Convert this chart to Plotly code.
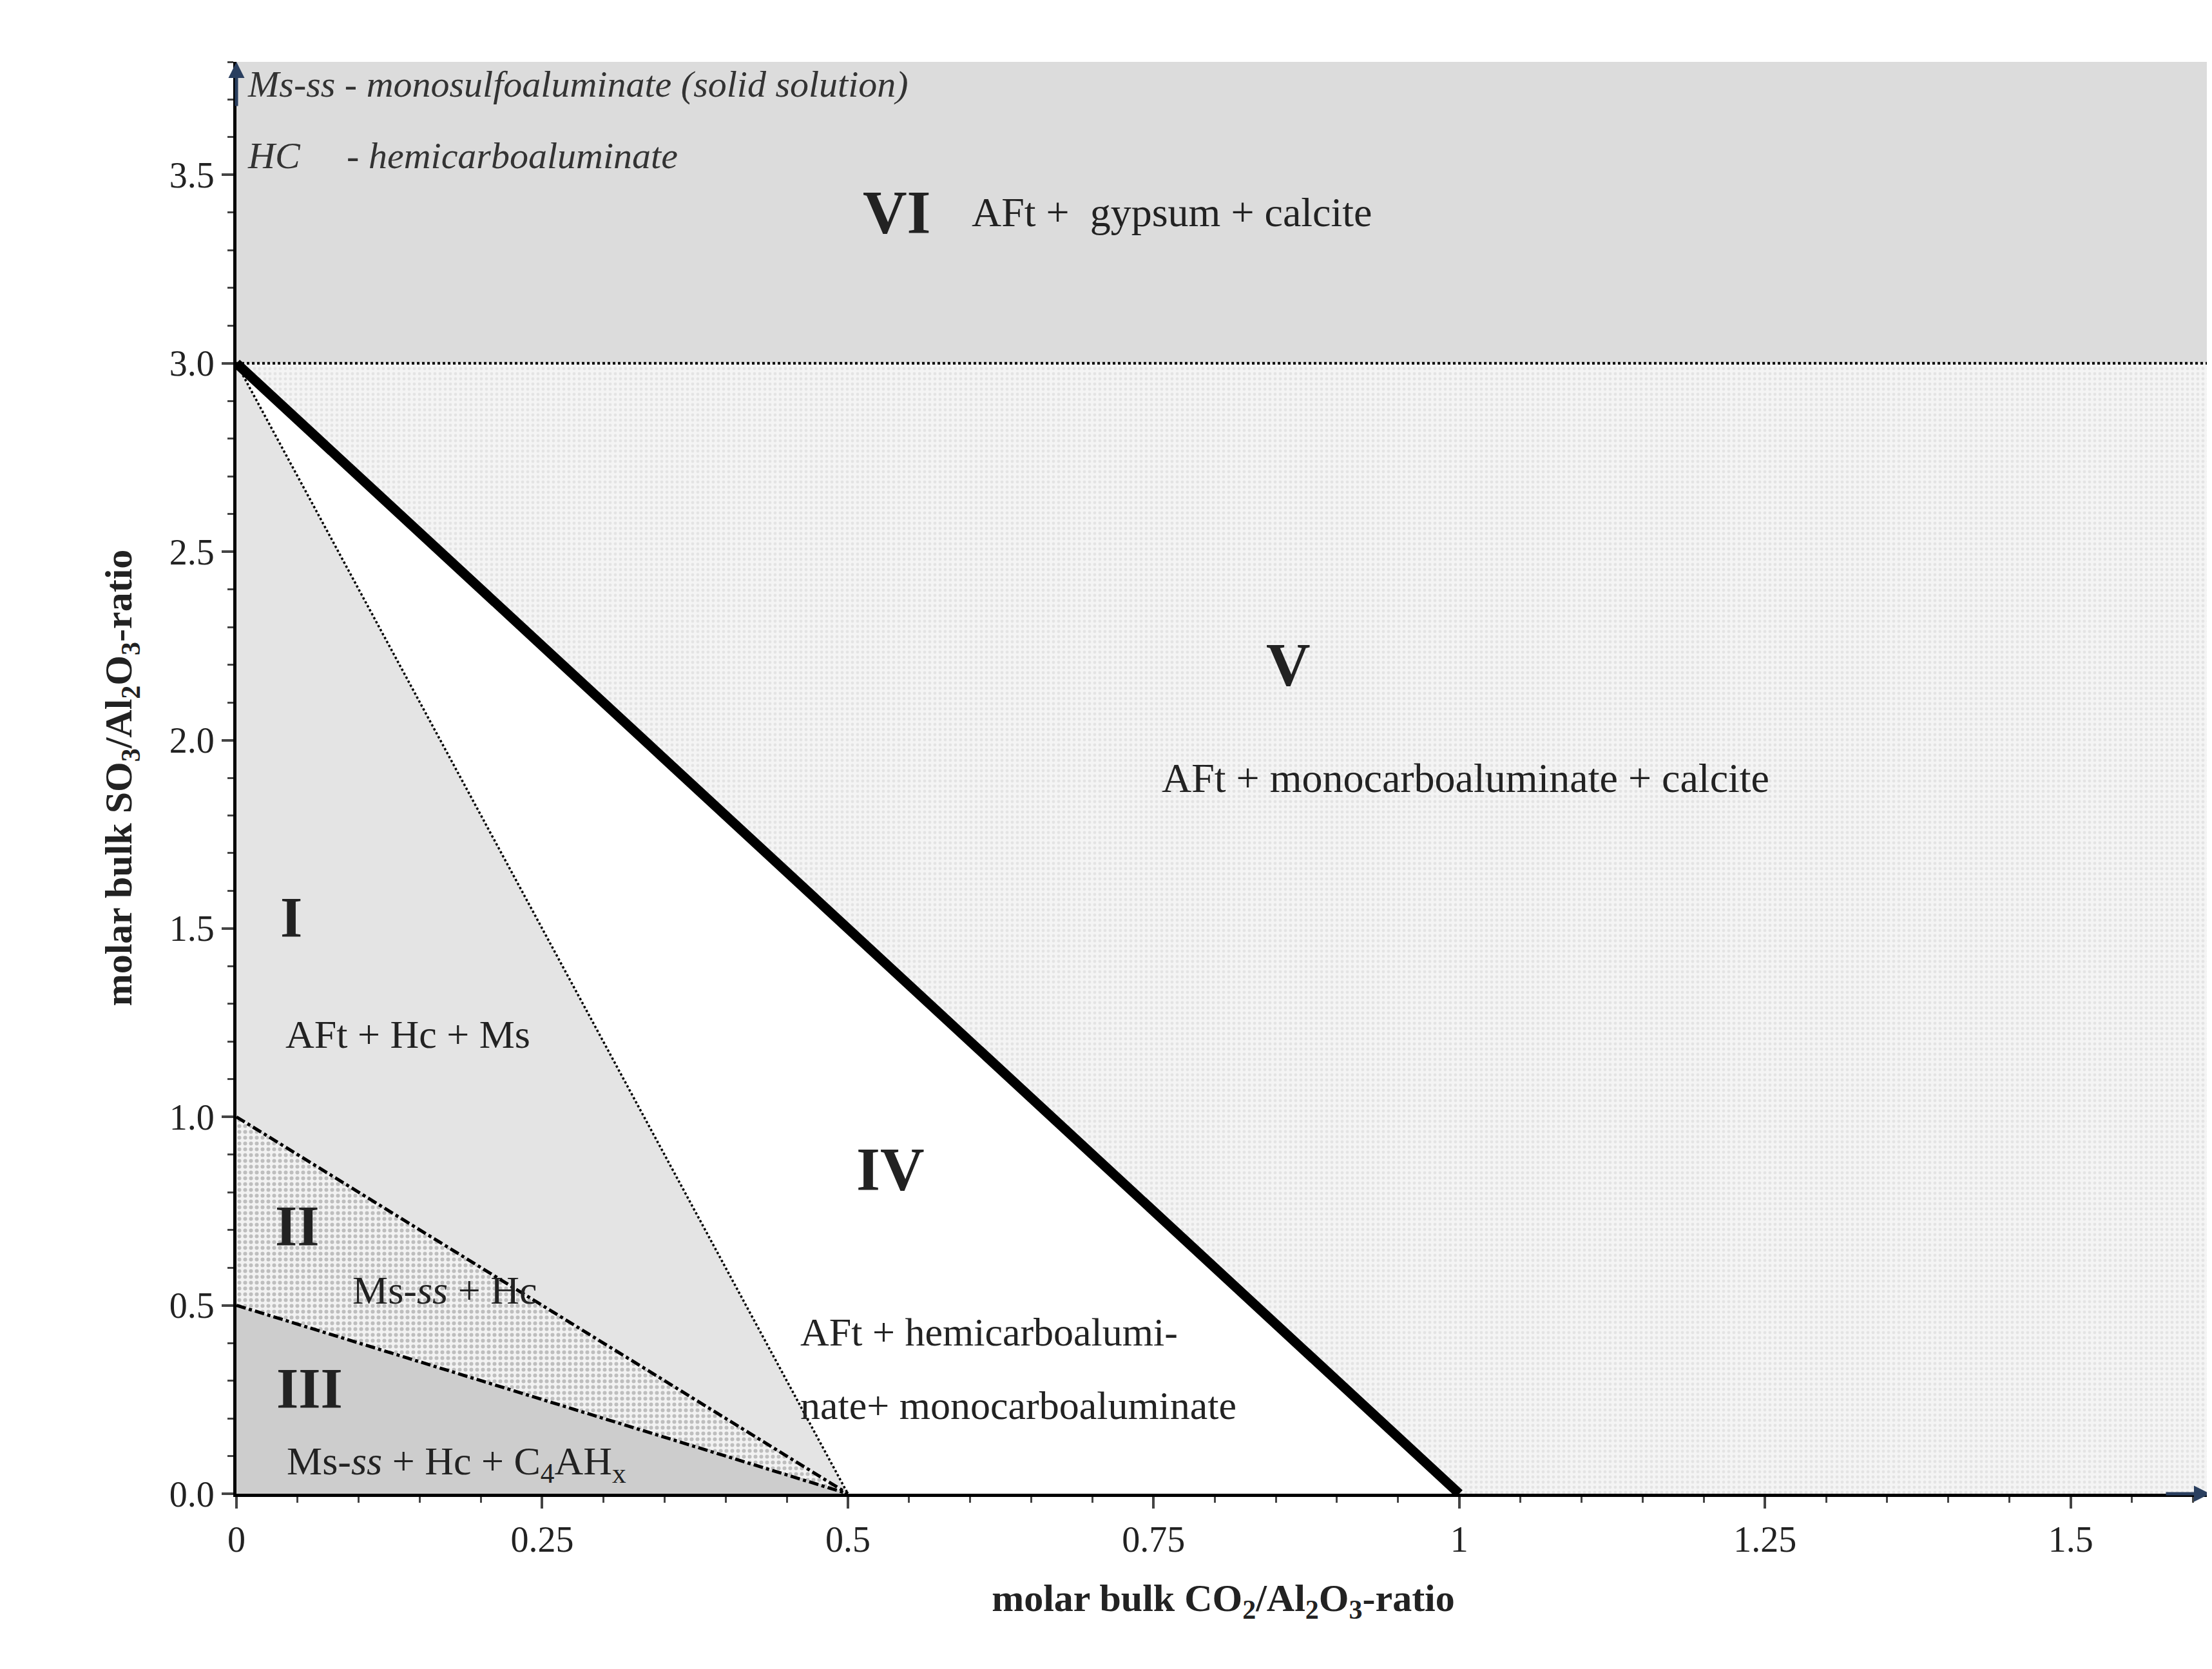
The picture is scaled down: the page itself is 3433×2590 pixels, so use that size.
import plotly.graph_objects as go

x_max, y_max = 1.614, 3.8
# region vertices (CO2/Al2O3, SO3/Al2O3)
vi_x = [0, x_max, x_max, 0]; vi_y = [3, 3, y_max, y_max]
v_x = [0, 1, x_max, x_max]; v_y = [3, 0, 0, 3]
i_x = [0, 0.5, 0]; i_y = [3, 0, 1]
ii_x = [0, 0.5, 0]; ii_y = [1, 0, 0.5]
iii_x = [0, 0.5, 0]; iii_y = [0.5, 0, 0]
xticks = [0, 0.25, 0.5, 0.75, 1, 1.25, 1.5]
xtick_labels = ["0", "0.25", "0.5", "0.75", "1", "1.25", "1.5"]
yticks = [0, 0.5, 1, 1.5, 2, 2.5, 3, 3.5]

F = "Liberation Serif, Times New Roman, serif"
fig = go.Figure()
def poly(x, y, color, pattern=None):
    fig.add_trace(go.Scatter(x=x + [x[0]], y=y + [y[0]], fill="toself", fillcolor=color,
                             mode="lines", line=dict(width=0), hoverinfo="skip", showlegend=False,
                             fillpattern=pattern))
poly(vi_x, vi_y, "#dcdcdc")
poly(v_x, v_y, "#f1f1f1", dict(shape=".", fgcolor="#d4d4d4", bgcolor="#f4f4f4", size=8, solidity=0.3))
poly(i_x, i_y, "#e4e4e4")
poly(ii_x, ii_y, "#eeeeee", dict(shape=".", fgcolor="#8a8a8a", bgcolor="#f2f2f2", size=9, solidity=0.35))
poly(iii_x, iii_y, "#cdcdcd")

def line(x, y, w, dash):
    fig.add_trace(go.Scatter(x=x, y=y, mode="lines", line=dict(color="black", width=w, dash=dash),
                             hoverinfo="skip", showlegend=False))
line([0, x_max], [3, 3], 4, "dot")
line([0, 0.5], [3, 0], 3.5, "dot")
line([0, 0.5], [1, 0], 5, "dashdot")
line([0, 0.5], [0.5, 0], 5, "dashdot")
line([0, 1], [3, 0], 15, "solid")

def txt(x, y, t, size=62, anchor="center", bold=False, italic=False):
    if bold: t = "<b>" + t + "</b>"
    if italic: t = "<i>" + t + "</i>"
    fig.add_annotation(x=x, y=y, text=t, showarrow=False, xanchor=anchor,
                       font=dict(family=F, size=size, color="#222"))
txt(0.54, 3.4, "VI", 95, bold=True)
txt(0.6, 3.4, "AFt +  gypsum + calcite", 64, "left")
txt(0.86, 2.2, "V", 95, bold=True)
txt(1.005, 1.9, "AFt + monocarboaluminate + calcite", 64)
txt(0.045, 1.53, "I", 88, bold=True)
txt(0.14, 1.22, "AFt + Hc + Ms", 62)
txt(0.05, 0.71, "II", 88, bold=True)
txt(0.17, 0.54, "Ms-<i>ss</i> + Hc", 62)
txt(0.06, 0.28, "III", 88, bold=True)
txt(0.18, 0.08, "Ms-<i>ss</i> + Hc + C<sub>4</sub>AH<sub>x</sub>", 62)
txt(0.535, 0.86, "IV", 95, bold=True)
txt(0.46, 0.43, "AFt + hemicarboalumi-", 62, "left")
txt(0.46, 0.235, "nate+ monocarboaluminate", 62, "left")

for yy, t in [(1.115, "excess <b>portlandite</b> present in all assemblages"),
              (1.0, "Ms-ss - monosulfoaluminate (solid solution)"),
              (0.95, "HC     - hemicarboaluminate")]:
    fig.add_annotation(xref="paper", yref="paper", x=0.005, y=yy, text="<i>" + t + "</i>",
                       showarrow=False, xanchor="left", yanchor="top",
                       font=dict(family=F, size=58, color="#333"))
# axis arrows
fig.add_annotation(xref="paper", yref="paper", x=1.0, y=0, ax=-70, ay=0,
                   showarrow=True, arrowhead=2, arrowsize=1, arrowwidth=5, text="")
fig.add_annotation(xref="paper", yref="paper", x=0, y=1.0, ax=0, ay=70,
                   showarrow=True, arrowhead=2, arrowsize=1, arrowwidth=5, text="")

ax_common = dict(showline=True, linecolor="black", linewidth=5, ticks="outside", ticklen=18,
                 tickwidth=4, showgrid=False, zeroline=False,
                 tickfont=dict(family=F, size=56, color="#222"))
fig.update_xaxes(range=[0, x_max], tickvals=xticks, ticktext=xtick_labels,
                 minor=dict(ticks="outside", ticklen=9, tickwidth=3, dtick=0.05),
                 title=dict(text="<b>molar bulk CO<sub>2</sub>/Al<sub>2</sub>O<sub>3</sub>-ratio</b>",
                            font=dict(family=F, size=60, color="#222"), standoff=40), **ax_common)
fig.update_yaxes(range=[0, y_max], tickvals=yticks, tickformat=".1f",
                 minor=dict(ticks="outside", ticklen=9, tickwidth=3, dtick=0.1),
                 title=dict(text="<b>molar bulk SO<sub>3</sub>/Al<sub>2</sub>O<sub>3</sub>-ratio</b>",
                            font=dict(family=F, size=60, color="#222"), standoff=40), **ax_common)
fig.update_layout(width=3433, height=2590, margin=dict(l=359, r=11, t=88, b=280),
                  plot_bgcolor="white", paper_bgcolor="white")
fig.write_html("out.html")
